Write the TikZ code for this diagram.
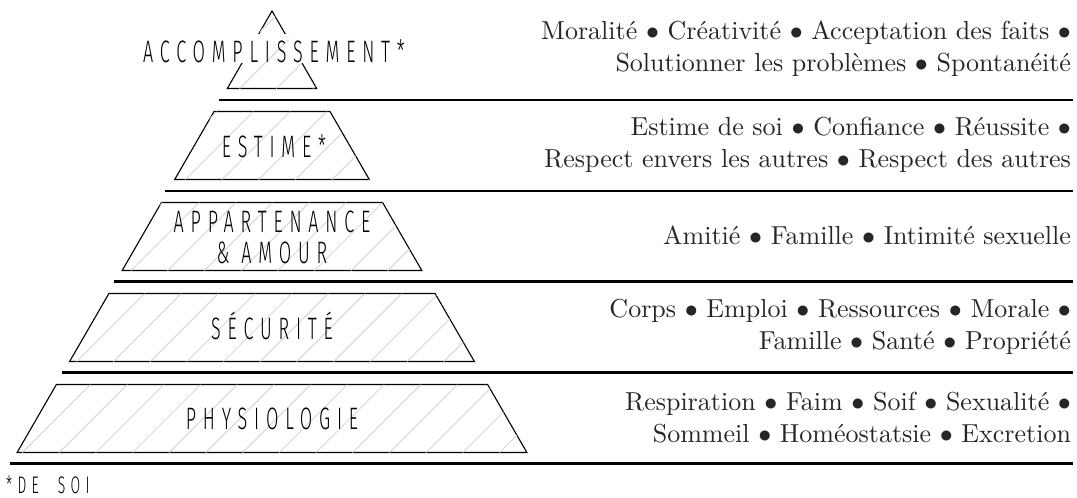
\documentclass[tikz,border=0pt]{standalone}
\usepackage{fontspec}
\IfFontExistsTF{Fira Sans Light}
  {\newfontfamily\lblfont{Fira Sans Light}[FakeStretch=0.58, LetterSpace=22]}
  {\newfontfamily\lblfont{Fira Sans}[FakeStretch=0.58, LetterSpace=22]}
\tikzset{
  bar/.style={line width=2.5pt, black},
  tier/.style={draw=black, line width=1.1pt, line join=miter},
  hatchline/.style={draw=black!18, line width=0.8pt},
  lbl/.style={font=\lblfont\fontsize{31}{31}\selectfont, inner sep=0pt, align=center, text=black},
  note/.style={font=\lblfont\fontsize{24}{24}\selectfont, inner sep=0pt, text=black},
  desc/.style={font=\fontsize{10}{12.3}\selectfont, scale=2.6, transform shape, anchor=east, align=right, inner sep=0pt, text=black!85},
}
\newcommand{\bul}{$\bullet$}
\begin{document}
\begin{tikzpicture}[x=1pt,y=-1pt]
\useasboundingbox (0,0) rectangle (1077,498);
% horizontal bars
\coordinate (b1s) at (219,99.9);  \coordinate (b1e) at (1073,99.9);
\coordinate (b2s) at (165,190.8); \coordinate (b2e) at (1073,190.8);
\coordinate (b3s) at (114,281.7); \coordinate (b3e) at (1073,281.7);
\coordinate (b4s) at (62,372.6);  \coordinate (b4e) at (1073,372.6);
\coordinate (b5s) at (10,463.5);  \coordinate (b5e) at (1073,463.5);
\draw[bar] (b1s) -- (b1e);
\draw[bar] (b2s) -- (b2e);
\draw[bar] (b3s) -- (b3e);
\draw[bar] (b4s) -- (b4e);
\draw[bar] (b5s) -- (b5e);
% tiers
\draw[tier] (272,11) -- (316.7,88.5) -- (227.3,88.5) -- cycle;
\draw[tier] (214,111.5) -- (330,111.5) -- (369.3,179.5) -- (174.7,179.5) -- cycle;
\draw[tier] (161.4,202.5) -- (382.6,202.5) -- (421.8,270.5) -- (122.2,270.5) -- cycle;
\draw[tier] (108.9,293.5) -- (435.1,293.5) -- (474.4,361.5) -- (69.6,361.5) -- cycle;
\draw[tier] (56.4,384.5) -- (487.6,384.5) -- (526.9,452.5) -- (17.1,452.5) -- cycle;
% white box behind top label
\node[fill=white, minimum width=282pt, minimum height=29pt, inner sep=0pt] (accbg) at (272,48.5) {};
% hatching
\begin{scope}
\clip (272,11) -- (316.7,88.5) -- (227.3,88.5) -- cycle
      (214,111.5) -- (330,111.5) -- (369.3,179.5) -- (174.7,179.5) -- cycle
      (161.4,202.5) -- (382.6,202.5) -- (421.8,270.5) -- (122.2,270.5) -- cycle
      (108.9,293.5) -- (435.1,293.5) -- (474.4,361.5) -- (69.6,361.5) -- cycle
      (56.4,384.5) -- (487.6,384.5) -- (526.9,452.5) -- (17.1,452.5) -- cycle;
\foreach \k in {-7,...,15}
  \draw[hatchline] ({475+36.7*\k},0) -- ({475+36.7*\k-500},500);
\end{scope}
% labels
\node[lbl, anchor=base] (acc) at (274,62) {ACCOMPLISSEMENT*};
\node[lbl, anchor=base] (est) at (274,157) {ESTIME*};
\node[lbl] (app) at (272,237.5) {APPARTENANCE\\\& AMOUR};
\node[lbl, anchor=base] (sec) at (272,339) {SÉCURITÉ};
\node[lbl, anchor=base] (phy) at (272,429.5) {PHYSIOLOGIE};
\node[note, anchor=base west] (soi) at (6,493) {*DE\hspace{10pt} SOI};
% descriptions
\node[desc] (d1) at (1071.5,49) {Moralité \bul{} Créativité \bul{} Acceptation des faits \bul\\Solutionner les problèmes \bul{} Spontanéité};
\node[desc] (d2) at (1071.5,144.5) {Estime de soi \bul{} Confiance \bul{} Réussite \bul\\Respect envers les autres \bul{} Respect des autres};
\node[desc] (d3) at (1071.5,235.5) {Amitié \bul{} Famille \bul{} Intimité sexuelle};
\node[desc] (d4) at (1071.5,327) {Corps \bul{} Emploi \bul{} Ressources \bul{} Morale \bul\\Famille \bul{} Santé \bul{} Propriété};
\node[desc] (d5) at (1071.5,418) {Respiration \bul{} Faim \bul{} Soif \bul{} Sexualité \bul\\Sommeil \bul{} Homéostatsie \bul{} Excretion};
\end{tikzpicture}
\end{document}
